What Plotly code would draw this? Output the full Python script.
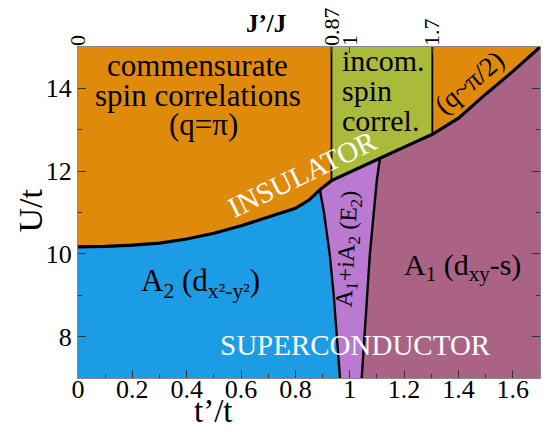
import numpy as np
import plotly.graph_objects as go

# ---------------- data ----------------
X_RANGE = [0.0, 1.7]
Y_RANGE = [7.0, 15.0]

# insulator / superconductor boundary (t'/t, U/t)
ins_x = [0.0, 0.1, 0.2, 0.3, 0.4, 0.5, 0.6, 0.7, 0.8, 0.85, 0.89, 0.9327, 1.0, 1.111, 1.2, 1.3038, 1.4, 1.5, 1.6, 1.7]
ins_y = [10.17, 10.18, 10.21, 10.26, 10.36, 10.50, 10.68, 10.90, 11.10, 11.30, 11.55, 11.77, 11.98, 12.31, 12.58, 12.89, 13.28, 13.86, 14.41, 15.0]

# left boundary of the A1+iA2 phase (bottom -> top)
left_x = [0.964, 0.953, 0.941, 0.926, 0.905, 0.89]
left_y = [7.0, 8.0, 9.0, 10.0, 11.0, 11.55]

# right boundary of the A1+iA2 phase (bottom -> top)
right_x = [1.044, 1.055, 1.064, 1.074, 1.088, 1.100, 1.111]
right_y = [7.0, 8.0, 9.0, 10.0, 11.0, 11.8, 12.31]

# top axis J'/J = (t'/t)^2
jj_vals = [0.0, 0.87, 1.0, 1.7]
jj_labels = ["0", "0.87", "1", "1.7"]
jj_green = [0.87, 1.7]  # incommensurate region bounds in J'/J

# colours
C_ORANGE = "rgb(224,138,12)"
C_BLUE = "rgb(28,156,228)"
C_PURPLE = "rgb(187,122,210)"
C_MAUVE = "rgb(170,99,133)"
C_GREEN = "rgb(170,186,58)"

FONT = "Liberation Serif"

# ---------------- geometry helpers ----------------
def idx(xv):
    return int(np.argmin(np.abs(np.array(ins_x) - xv)))

i_left = idx(left_x[-1])
i_right = idx(right_x[-1])
g1, g2 = [float(np.sqrt(v)) for v in jj_green]
i_g1, i_g2 = idx(g1), idx(g2)
X0, X1 = X_RANGE
Y0, Y1 = Y_RANGE

fig = go.Figure()

def poly(xs, ys, color):
    fig.add_trace(go.Scatter(x=xs, y=ys, mode="lines", fill="toself",
                             fillcolor=color, line=dict(color=color, width=0.5),
                             hoverinfo="skip", showlegend=False))

# orange: everything above insulator line
poly(ins_x + [X1, X0], ins_y + [Y1, Y1], C_ORANGE)
# green: incommensurate strip
poly(ins_x[i_g1:i_g2 + 1] + [g2, g1], ins_y[i_g1:i_g2 + 1] + [Y1, Y1], C_GREEN)
# blue: A2 (d x2-y2)
poly([X0] + ins_x[:i_left + 1] + left_x[::-1], [Y0] + ins_y[:i_left + 1] + left_y[::-1], C_BLUE)
# purple: A1+iA2
poly(left_x + ins_x[i_left + 1:i_right] + right_x[::-1],
     left_y + ins_y[i_left + 1:i_right] + right_y[::-1], C_PURPLE)
# mauve: A1 (dxy-s)
poly(right_x + ins_x[i_right + 1:] + [X1], right_y + ins_y[i_right + 1:] + [Y0], C_MAUVE)

def line(xs, ys, w):
    fig.add_trace(go.Scatter(x=xs, y=ys, mode="lines", line=dict(color="black", width=w),
                             hoverinfo="skip", showlegend=False))

line(ins_x, ins_y, 3.2)
line(left_x, left_y, 2.4)
line(right_x, right_y, 2.4)
line([g1, g1], [ins_y[i_g1], Y1], 1.8)
line([g2, g2], [ins_y[i_g2], Y1], 1.8)

# invisible trace on top axis
fig.add_trace(go.Scatter(x=[X0], y=[Y0], xaxis="x2", mode="markers",
                         marker=dict(opacity=0), hoverinfo="skip", showlegend=False))

# ---------------- annotations ----------------
def ann(text, x, y, size, color="black", angle=0, xanchor="center", **kw):
    fig.add_annotation(x=x, y=y, text=text, showarrow=False, textangle=angle,
                       xanchor=xanchor, yanchor="middle",
                       font=dict(family=FONT, size=size, color=color), **kw)

ann("commensurate", 0.44, 14.55, 31)
ann("spin correlations", 0.44, 13.84, 31)
ann("(q=π)", 0.46, 13.12, 31)

ann("incom.", 0.965, 14.68, 30, xanchor="left")
ann("spin", 0.965, 13.95, 30, xanchor="left")
ann("correl.", 0.965, 13.22, 30, xanchor="left")

ann("(q~π/2)", 1.442, 14.15, 27, angle=-40)
ann("INSULATOR", 0.825, 11.92, 29, color="white", angle=-26)
ann("SUPERCONDUCTOR", 1.02, 7.8, 29, color="white")
ann("A<sub>2</sub> (d<sub>x²-y²</sub>)", 0.45, 9.3, 31)
ann("A<sub>1</sub> (d<sub>xy</sub>-s)", 1.415, 9.68, 30)
ann("A<sub>1</sub>+iA<sub>2</sub> (E<sub>2</sub>)", 0.995, 10.12, 24, angle=-87)

# axis titles
fig.add_annotation(x=0.5, xref="x", y=-0.1, yref="paper", xanchor="center", yanchor="middle",
                   text="t’/t", showarrow=False, font=dict(family=FONT, size=33, color="black"))
fig.add_annotation(x=0, xref="paper", xshift=-48, y=11.05, yref="y", xanchor="center",
                   yanchor="middle", textangle=-90, text="U/t", showarrow=False,
                   font=dict(family=FONT, size=34, color="black"))
fig.add_annotation(x=0.69, xref="x", y=1.072, yref="paper", xanchor="center", yanchor="middle",
                   text="<b>J’/J</b>", showarrow=False, font=dict(family=FONT, size=25, color="black"))

axis_common = dict(showgrid=False, zeroline=False, linecolor="#8a8a8a", linewidth=1,
                   ticks="inside", tickcolor="#333", ticklen=8, tickwidth=1, automargin=False,
                   tickfont=dict(family=FONT, size=26, color="black"))

# the page body adds an 8px offset, so the figure is sized to fit what remains
fig.update_layout(
    width=542, height=436,
    margin=dict(l=70, r=10, t=39, b=66, autoexpand=False),
    plot_bgcolor="white", paper_bgcolor="white",
    showlegend=False,
    xaxis=dict(range=X_RANGE, tick0=0, dtick=0.2, mirror=True, ticklabelstandoff=-12,
               minor=dict(dtick=0.1, ticks="inside", ticklen=4, tickcolor="#333"),
               **axis_common),
    xaxis2=dict(range=X_RANGE, overlaying="x", side="top", anchor="y",
                tickvals=[float(np.sqrt(v)) for v in jj_vals], ticktext=jj_labels,
                tickangle=-90, showgrid=False, zeroline=False, showline=False,
                ticks="inside", ticklen=6, tickcolor="#333", automargin=False,
                tickfont=dict(family=FONT, size=22, color="black")),
    yaxis=dict(range=Y_RANGE, tick0=0, dtick=2, mirror="ticks",
               minor=dict(dtick=1, ticks="inside", ticklen=4, tickcolor="#333"),
               **axis_common),
)

fig.write_html("out.html")
